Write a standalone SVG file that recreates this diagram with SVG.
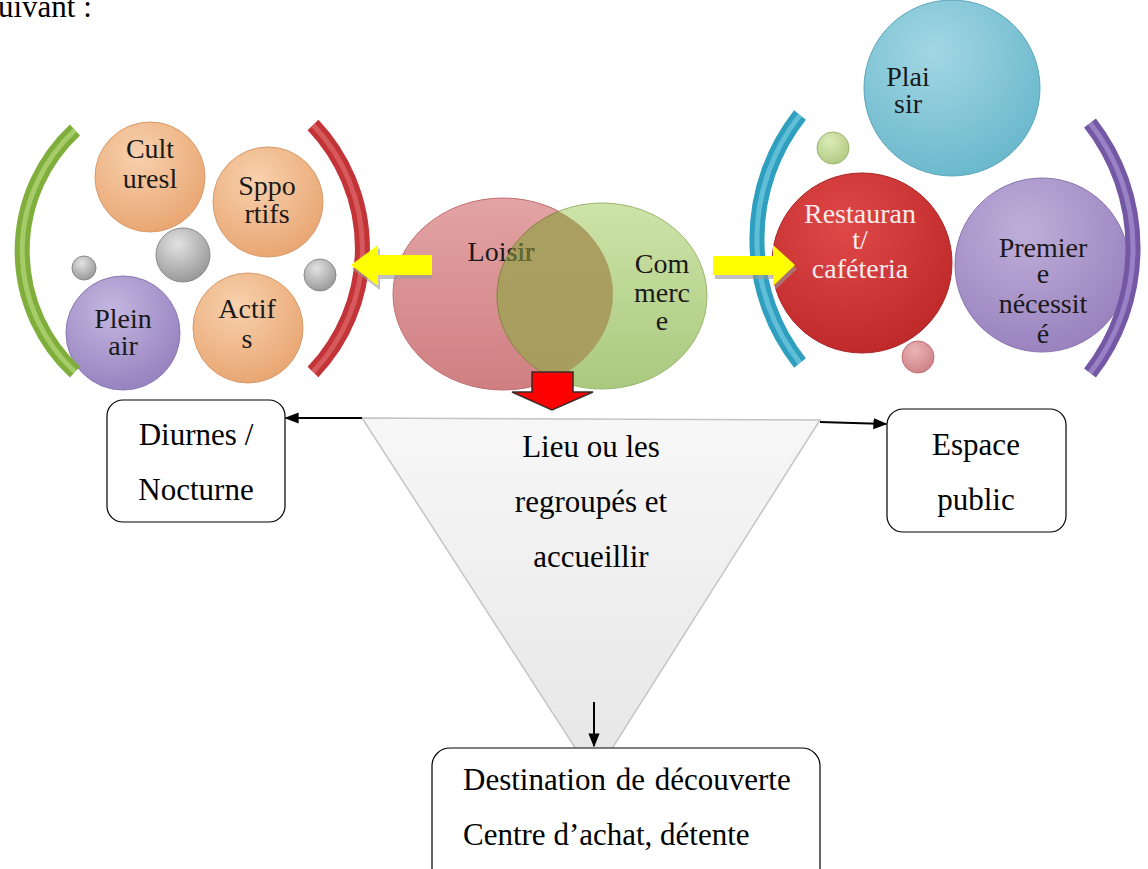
<svg xmlns="http://www.w3.org/2000/svg" width="1148" height="869" viewBox="0 0 1148 869">
<defs>
<style>
.t{font-family:'Liberation Serif','DejaVu Serif',serif;font-size:28px;fill:#1a1a1a;text-anchor:middle}
.tw{fill:#f4ecec}
.b{font-family:'Liberation Serif','DejaVu Serif',serif;font-size:31px;fill:#000;text-anchor:middle}
.box{fill:#fff;stroke:#000;stroke-width:1.2}
.con{stroke:#000;stroke-width:2;fill:none}
.arc{fill:none;stroke-width:15;stroke-linecap:butt}
.hl{fill:none;stroke-width:5;stroke-linecap:butt;opacity:.45}
</style>
<radialGradient id="gOr" cx="40%" cy="30%" r="70%"><stop offset="0" stop-color="#f8d1ad"/><stop offset="1" stop-color="#e9a774"/></radialGradient>
<radialGradient id="gPu" cx="40%" cy="30%" r="70%"><stop offset="0" stop-color="#c4b6e0"/><stop offset="1" stop-color="#9784c0"/></radialGradient>
<radialGradient id="gGr" cx="40%" cy="30%" r="70%"><stop offset="0" stop-color="#e2e2e2"/><stop offset="1" stop-color="#9a9a9a"/></radialGradient>
<radialGradient id="gBl" cx="40%" cy="30%" r="70%"><stop offset="0" stop-color="#a2d7e3"/><stop offset="1" stop-color="#6cb9cd"/></radialGradient>
<radialGradient id="gRe" cx="40%" cy="30%" r="70%"><stop offset="0" stop-color="#e04848"/><stop offset="1" stop-color="#c02a2a"/></radialGradient>
<radialGradient id="gPr" cx="40%" cy="30%" r="70%"><stop offset="0" stop-color="#bfaed9"/><stop offset="1" stop-color="#9a83bf"/></radialGradient>
<radialGradient id="gLg" cx="40%" cy="30%" r="70%"><stop offset="0" stop-color="#dcebb8"/><stop offset="1" stop-color="#b3cc84"/></radialGradient>
<radialGradient id="gPk" cx="40%" cy="30%" r="70%"><stop offset="0" stop-color="#eab4b6"/><stop offset="1" stop-color="#cf8488"/></radialGradient>
<linearGradient id="gLo" x1="0" y1="0" x2="0" y2="1"><stop offset="0" stop-color="#e3a3a4"/><stop offset="1" stop-color="#cf7f82"/></linearGradient>
<linearGradient id="gCo" x1="0" y1="0" x2="0" y2="1"><stop offset="0" stop-color="#cde3a8"/><stop offset="1" stop-color="#aac97e"/></linearGradient>
<linearGradient id="gTri" x1="0" y1="0" x2="0" y2="1"><stop offset="0" stop-color="#f7f7f7"/><stop offset="1" stop-color="#e6e6e6"/></linearGradient>
<clipPath id="cLo"><ellipse cx="503" cy="294" rx="110" ry="96"/></clipPath>
<clipPath id="cCo"><ellipse cx="602" cy="296" rx="105" ry="93"/></clipPath>
<marker id="ah2" viewBox="0 0 10 10" refX="9" refY="5" markerWidth="14" markerHeight="14" markerUnits="userSpaceOnUse" orient="auto"><path d="M0,1 L10,5 L0,9 z" fill="#000"/></marker>
</defs>
<rect width="1148" height="869" fill="#fff"/>
<text x="-2" y="17" font-family="'Liberation Serif','DejaVu Serif',serif" font-size="31" fill="#000">uivant :</text>

<g id="left-cluster">
<g id="n-cultures"><circle cx="150" cy="177" r="55" fill="url(#gOr)" stroke="#d9996a" stroke-width="1"/><text class="t" x="150" y="158">Cult</text><text class="t" x="150" y="188">uresl</text></g>
<g id="n-sportifs"><circle cx="268" cy="202" r="55" fill="url(#gOr)" stroke="#d9996a" stroke-width="1"/><text class="t" x="267" y="195">Sppo</text><text class="t" x="267" y="223">rtifs</text></g>
<g id="n-gray1"><circle cx="183" cy="255" r="27" fill="url(#gGr)" stroke="#8a8a8a" stroke-width="1"/></g>
<g id="n-gray2"><circle cx="84" cy="268" r="12" fill="url(#gGr)" stroke="#8a8a8a" stroke-width="1"/></g>
<g id="n-gray3"><circle cx="320" cy="275" r="16" fill="url(#gGr)" stroke="#8a8a8a" stroke-width="1"/></g>
<g id="n-pleinair"><circle cx="123" cy="333" r="57" fill="url(#gPu)" stroke="#8a76b2" stroke-width="1"/><text class="t" x="123" y="328">Plein</text><text class="t" x="123" y="355">air</text></g>
<g id="n-actifs"><circle cx="248" cy="328" r="55" fill="url(#gOr)" stroke="#d9996a" stroke-width="1"/><text class="t" x="247" y="318">Actif</text><text class="t" x="247" y="348">s</text></g>
<g id="arc-green"><path class="arc" d="M75,130 A165 165 0 0 0 75,372" stroke="#7fae3c"/><path class="hl" d="M75,130 A165 165 0 0 0 75,372" stroke="#d8f0a0"/></g>
<g id="arc-red"><path class="arc" d="M313,125 A179 179 0 0 1 313,372" stroke="#c23438"/><path class="hl" d="M313,125 A179 179 0 0 1 313,372" stroke="#f08a8a"/></g>
</g>

<g id="venn">
<g id="n-loisir"><ellipse cx="503" cy="294" rx="110" ry="96" fill="url(#gLo)" stroke="#c07070" stroke-width="1"/></g>
<g id="n-commerce"><ellipse cx="602" cy="296" rx="105" ry="93" fill="url(#gCo)" stroke="#9ab570" stroke-width="1"/><text class="t" x="662" y="273">Com</text><text class="t" x="662" y="302">merc</text><text class="t" x="662" y="330">e</text></g>
<g id="overlap"><ellipse cx="602" cy="296" rx="105" ry="93" clip-path="url(#cLo)" fill="#a7985a" opacity="0.9" stroke="#8a7a40" stroke-width="1"/></g>
<g id="loisir-label"><text class="t" x="501" y="261">Loisir</text><text class="t" x="501" y="261" clip-path="url(#cCo)" style="fill:#6b6a30">Loisir</text></g>
</g>

<g id="right-cluster">
<g id="n-plaisir"><circle cx="952" cy="88" r="88" fill="url(#gBl)" stroke="#5aa6ba" stroke-width="1"/><text class="t" x="908" y="86">Plai</text><text class="t" x="908" y="113">sir</text></g>
<g id="n-dot-green"><circle cx="833" cy="148" r="16" fill="url(#gLg)" stroke="#9ab570" stroke-width="1"/></g>
<g id="n-restaurant"><circle cx="862" cy="263" r="90" fill="url(#gRe)" stroke="#a82424" stroke-width="1"/><text class="t tw" x="860" y="223">Restauran</text><text class="t tw" x="860" y="249">t/</text><text class="t tw" x="860" y="278">caféteria</text></g>
<g id="n-premier"><circle cx="1042" cy="265" r="87" fill="url(#gPr)" stroke="#8a72b0" stroke-width="1"/><text class="t" x="1043" y="257">Premier</text><text class="t" x="1043" y="283">e</text><text class="t" x="1043" y="313">nécessit</text><text class="t" x="1043" y="343">é</text></g>
<g id="n-dot-pink"><circle cx="918" cy="357" r="16" fill="url(#gPk)" stroke="#c07075" stroke-width="1"/></g>
<g id="arc-blue"><path class="arc" d="M800,115 A200 200 0 0 0 800,363" stroke="#2f9fbf"/><path class="hl" d="M800,115 A200 200 0 0 0 800,363" stroke="#a0e4f4"/></g>
<g id="arc-purple"><path class="arc" d="M1090,123 A203 203 0 0 1 1090,373" stroke="#7458a6"/><path class="hl" d="M1090,123 A203 203 0 0 1 1090,373" stroke="#c8b4ec"/></g>
</g>

<g id="n-triangle"><polygon points="362,418 820,420 594,777" fill="url(#gTri)" stroke="#c4c4c4" stroke-width="1.5"/><text class="b" x="591" y="457">Lieu ou les</text><text class="b" x="591" y="512">regroupés et</text><text class="b" x="591" y="567">accueillir</text></g>

<g id="n-diurnes"><rect class="box" x="107" y="400" width="178" height="122" rx="16"/><text class="b" x="196" y="445">Diurnes /</text><text class="b" x="196" y="500">Nocturne</text></g>
<g id="n-espace"><rect class="box" x="887" y="409" width="179" height="123" rx="16"/><text class="b" x="976" y="455">Espace</text><text class="b" x="976" y="510">public</text></g>
<g id="n-destination"><rect class="box" x="432" y="748" width="388" height="140" rx="18"/><text class="b" x="463" y="790" word-spacing="2" style="text-anchor:start">Destination de découverte</text><text class="b" x="463" y="845" style="text-anchor:start">Centre d’achat, détente</text></g>

<g id="connectors">
<polygon points="430,256 378,256 378,245 350,266 378,287 378,276 430,276" fill="#9a9a9a" opacity="0.6" transform="translate(2,3)"/>
<polygon points="432,255 378,255 378,245 351,265 378,286 378,275 432,275" fill="#ffff00"/>
<polygon points="713,257 773,257 773,245 795,266 773,287 773,276 713,276" fill="#9a9a9a" opacity="0.6" transform="translate(2,3)"/>
<polygon points="713,256 773,256 773,245 795,265 773,286 773,275 713,275" fill="#ffff00"/>
<polygon points="532,372 573,372 573,392 593,392 552,410 512,392 532,392" fill="#ff0000" stroke="#3a2a2a" stroke-width="1.5"/>
<line class="con" x1="362" y1="418" x2="286" y2="418" marker-end="url(#ah2)"/>
<line class="con" x1="820" y1="422" x2="886" y2="424" marker-end="url(#ah2)"/>
<line class="con" x1="594" y1="702" x2="594" y2="746" marker-end="url(#ah2)"/>
</g>
</svg>
